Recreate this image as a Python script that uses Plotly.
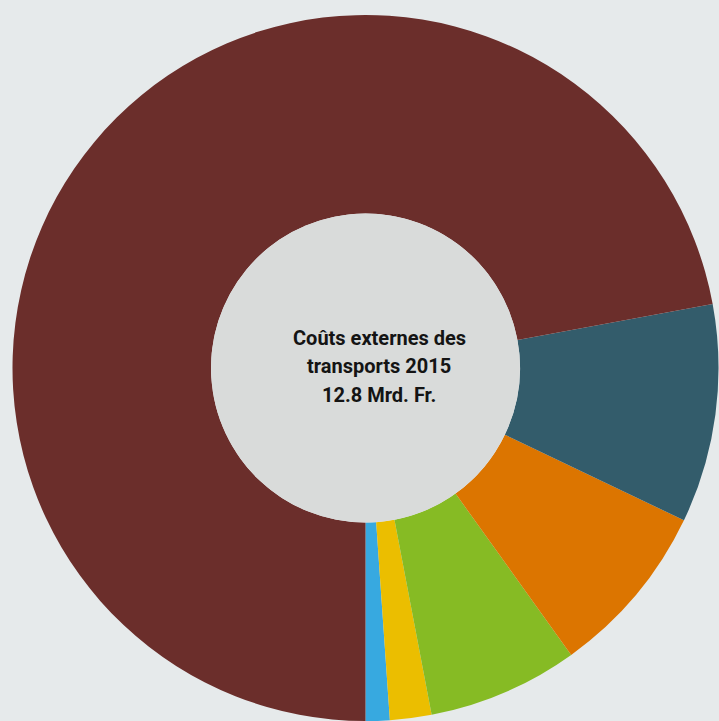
import plotly.graph_objects as go

# Data (share of external transport costs 2015, %)
categories = ["Mobilité douce", "Bus", "Rail", "Aviation", "Navigation", "Route"]
shares = [1.1, 1.9, 6.9, 8.0, 10.0, 72.1]
colors = ["#37a9e0", "#ebbe00", "#86bb24", "#dc7500", "#335c6b", "#6b2e2b"]
center_lines = ["Coûts externes des", "transports 2015", "12.8 Mrd. Fr."]

W, H = 719, 721
cx, cy = 365.5, 368.0      # pixel centre (from top-left)
R_out, R_in = 353.0, 154.5
text_cx = 379.0

def dom(r):
    return dict(x=[(cx - r) / W, (cx + r) / W],
                y=[(H - cy - r) / H, (H - cy + r) / H])

# plotly places the first slice clockwise from `rotation`; shift so it ends at 6 o'clock
rot = 180 - shares[0] / sum(shares) * 360

fig = go.Figure()
fig.add_trace(go.Pie(
    labels=categories, values=shares,
    marker=dict(colors=colors, line=dict(width=0)),
    hole=R_in / R_out, sort=False, direction="counterclockwise", rotation=rot,
    textinfo="none", showlegend=False, domain=dom(R_out),
    hovertemplate="%{label}: %{value}%<extra></extra>",
))
fig.add_trace(go.Pie(
    labels=[" "], values=[1],
    marker=dict(colors=["#d9dbda"], line=dict(width=0)),
    textinfo="none", showlegend=False, hoverinfo="skip", sort=False,
    domain=dom(R_in),
))

line_y = [337.5, 366, 394.5]
for txt, yy in zip(center_lines, line_y):
    fig.add_annotation(
        text=f"<b>{txt}</b>", x=text_cx / W, y=(H - yy) / H, xref="paper", yref="paper",
        xanchor="center", yanchor="middle", showarrow=False,
        font=dict(family="Roboto", size=20, color="#141414"),
    )

fig.update_layout(
    width=W, height=H, margin=dict(l=0, r=0, t=0, b=0),
    paper_bgcolor="#e6eaeb", plot_bgcolor="#e6eaeb",
)
fig.write_html("out.html")
